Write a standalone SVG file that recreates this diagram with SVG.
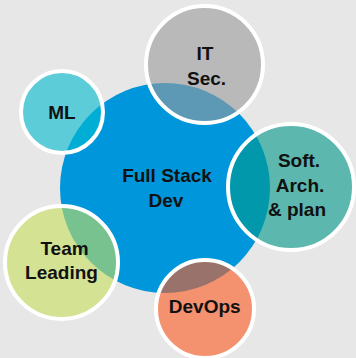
<svg xmlns="http://www.w3.org/2000/svg" width="356" height="358" viewBox="0 0 356 358">
<style>
.bub{stroke:#fff;stroke-width:4;fill-opacity:0.6}
.t{font-family:"Liberation Sans",Arial,sans-serif;font-weight:bold;font-size:19px;fill:#111;text-anchor:middle}
</style>
<rect width="356" height="358" fill="#e7e7e7"/>
<g id="connectors"/>
<g id="fullstack">
<circle cx="165" cy="188" r="105" fill="#0096db"/>
<text class="t" x="167" y="181.5">Full Stack</text>
<text class="t" x="166" y="206.5">Dev</text>
</g>
<g id="itsec">
<circle class="bub" cx="204.5" cy="64.5" r="58.5" fill="#9b9b9b"/>
<text class="t" x="205" y="60">IT</text>
<text class="t" x="206.5" y="85">Sec.</text>
</g>
<g id="ml">
<circle class="bub" cx="62" cy="112" r="41" fill="#00bccf"/>
<text class="t" x="62" y="119">ML</text>
</g>
<g id="softarch">
<circle class="bub" cx="291" cy="187" r="63" fill="#009989"/>
<text class="t" x="299" y="167">Soft.</text>
<text class="t" x="300" y="191.5">Arch.</text>
<text class="t" x="297" y="215.5">&amp; plan</text>
</g>
<g id="team">
<circle class="bub" cx="61.5" cy="262.5" r="56.5" fill="#c8df5d"/>
<text class="t" x="64.5" y="255">Team</text>
<text class="t" x="61.5" y="279">Leading</text>
</g>
<g id="devops">
<circle class="bub" cx="205" cy="309" r="49" fill="#fd5a20"/>
<text class="t" x="204.7" y="313.3">DevOps</text>
</g>
</svg>
